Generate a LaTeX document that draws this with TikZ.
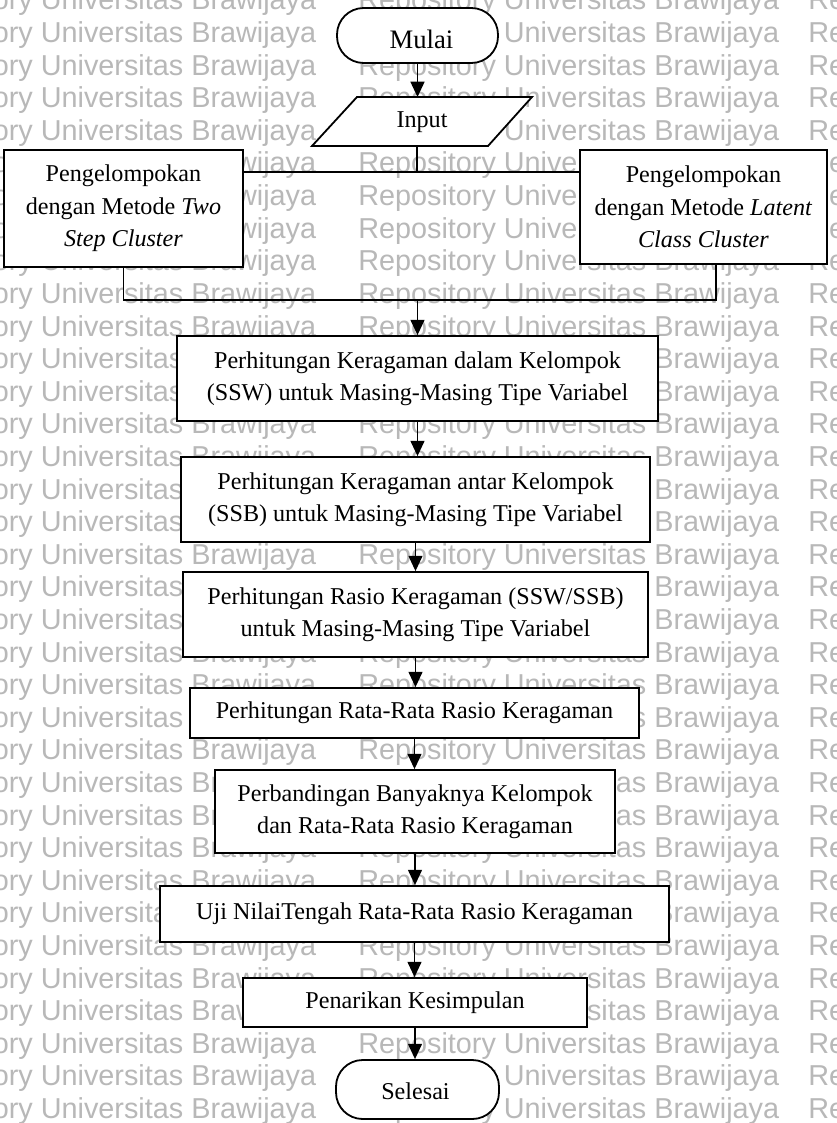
\documentclass[tikz,border=0pt]{standalone}
\usepackage{fontspec}
\setmainfont{Liberation Serif}
\newfontfamily\wmfont{Liberation Sans}
\usetikzlibrary{arrows.meta}
\begin{document}
\begin{tikzpicture}[x=0.75pt,y=-0.75pt,
  txt/.style={inner sep=0pt, align=center, font=\fontsize{18.1}{24.4}\selectfont},
  box/.style={txt, draw, line width=1.35pt, fill=white},
  term/.style={box, rounded corners=20pt},
  conn/.style={line width=1.1pt},
  arr/.style={conn, -{Triangle[width=10.5pt,length=11.5pt]}},
  wm/.style={text=black!28, font=\wmfont\fontsize{21.6}{21.6}\selectfont, anchor=base west, inner sep=0pt}
]
\useasboundingbox (0,0) rectangle (837,1123);
\fill[white] (0,0) rectangle (837,1123);
% watermark
\foreach \k in {0,...,34} {
  \foreach \cx [count=\ci] in {-105,358,808} {
    \node[wm] (wm\k-\ci) at ({\cx},{10+32.6*\k}) {Repository Universitas Brawijaya};
  }
}
% terminals and boxes
\node[term, minimum width=120.75pt, minimum height=41.25pt] (mulai) at (417.5,35.5) {};
\node[txt, anchor=base, font=\fontsize{20}{24}\selectfont] (mulaiT) at (421.5,49) {Mulai};

\draw[line width=1.35pt, fill=white] (357,97) -- (532,97) -- (488,146) -- (312,146) -- cycle;
\node[txt] (input) at (422,122) {Input};
\coordinate (inTop) at (417.5,97);
\coordinate (inBot) at (417,146);

\node[box, minimum width=179.25pt, minimum height=87.75pt] (L) at (123.5,208.5)
  {Pengelompokan\\dengan Metode \textit{Two}\\\textit{Step Cluster}};
\node[box, minimum width=185.25pt, minimum height=85.5pt] (R) at (703.5,207)
  {Pengelompokan\\dengan Metode \textit{Latent}\\\textit{Class Cluster}};

\node[box, minimum width=360.75pt, minimum height=63.75pt] (B1) at (417.5,378.5)
  {Perhitungan Keragaman dalam Kelompok\\(SSW) untuk Masing-Masing Tipe Variabel};
\node[box, minimum width=351.75pt, minimum height=63.75pt] (B2) at (415.5,499.5)
  {Perhitungan Keragaman antar Kelompok\\(SSB) untuk Masing-Masing Tipe Variabel};
\node[box, minimum width=348.75pt, minimum height=63.75pt] (B3) at (415.5,614.5)
  {Perhitungan Rasio Keragaman (SSW/SSB)\\untuk Masing-Masing Tipe Variabel};
\node[box, minimum width=336.75pt, minimum height=37.5pt] (B4) at (414.5,713)
  {Perhitungan Rata-Rata Rasio Keragaman};
\node[box, minimum width=300pt, minimum height=62.25pt] (B5) at (415,811.5)
  {Perbandingan Banyaknya Kelompok\\dan Rata-Rata Rasio Keragaman};
\node[box, minimum width=381.75pt, minimum height=42pt] (B6) at (414.5,914)
  {Uji NilaiTengah Rata-Rata Rasio Keragaman};
\node[box, minimum width=258pt, minimum height=36.75pt] (B7) at (415,1002.5)
  {Penarikan Kesimpulan};
\node[term, minimum width=122.25pt, minimum height=44.25pt] (selesai) at (417.5,1089.5) {};
\node[txt, anchor=base] (selesaiT) at (415.5,1099) {Selesai};

% connectors
\draw[arr] (mulai.south) -- (inTop);
\coordinate (j1) at (417,172);
\draw[conn] (inBot) -- (j1);
\draw[conn] (L.east |- j1) -- (R.west |- j1);
\coordinate (j2) at (417.5,300);
\coordinate (rs) at (716,264);
\draw[conn] (L.south) -- (L.south |- j2) -- (rs |- j2) -- (rs);
\draw[arr] (j2) -- (B1.north);
\draw[arr] (B1.south) -- (B1.south |- B2.north);
\draw[arr] (B2.south) -- (B2.south |- B3.north);
\draw[arr] (B3.south) -- (B3.south |- B4.north);
\draw[arr] (B4.south) -- (B4.south |- B5.north);
\draw[arr] (B5.south) -- (B5.south |- B6.north);
\draw[arr] (B6.south) -- (B6.south |- B7.north);
\draw[arr] (B7.south) -- (B7.south |- selesai.north);
\end{tikzpicture}
\end{document}
